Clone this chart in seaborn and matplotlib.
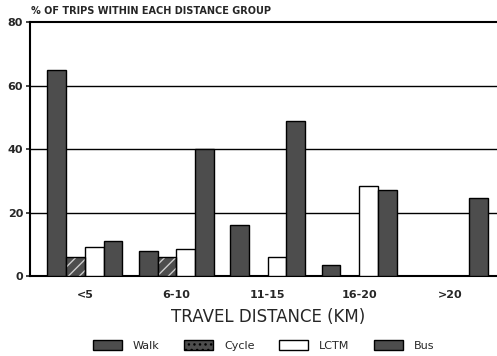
import matplotlib
matplotlib.use("Agg")
import matplotlib.pyplot as plt
import seaborn as sns
import pandas as pd
from matplotlib.patches import Patch

categories = ["<5", "6-10", "11-15", "16-20", ">20"]
modes = ["Walk", "Cycle", "LCTM", "Bus"]
walk = [65, 8, 16, 3.5, 0]
cycle = [6, 6, 0, 0, 0]
lctm = [9, 8.5, 6, 28.5, 0]
bus = [11, 40, 49, 27, 24.5]
yticks = [0, 20, 40, 60, 80]

rows = []
for mode, vals in zip(modes, [walk, cycle, lctm, bus]):
    for c, v in zip(categories, vals):
        rows.append({"dist": c, "mode": mode, "pct": v})
df = pd.DataFrame(rows)

sns.set_theme(style="white")
plt.rcParams["font.family"] = ["DejaVu Sans"]

fig = plt.figure(figsize=(4.97, 3.56), dpi=100)
ax = fig.add_axes([0.0604, 0.2247, 0.96, 0.713])

dark = "#4d4d4d"
palette = {"Walk": dark, "Cycle": dark, "LCTM": "white", "Bus": dark}
sns.barplot(data=df, x="dist", y="pct", hue="mode", order=categories,
            hue_order=modes, palette=palette, width=0.82, saturation=1,
            edgecolor="black", linewidth=1.0, ax=ax, legend=False, zorder=3)

# hatch the cycle bars
for bar in ax.containers[1]:
    bar.set_hatch("///")
    bar.set_edgecolor("#cccccc")
    bar.set_linewidth(0)
for bar in ax.containers[1]:
    x, w, h = bar.get_x(), bar.get_width(), bar.get_height()
    ax.add_patch(plt.Rectangle((x, 0), w, h, fill=False, edgecolor="black",
                               linewidth=1.0, zorder=4))

ax.set_xlim(-0.6, 4.62)
ax.set_ylim(0, 80)
ax.set_yticks(yticks)
ax.set_yticklabels([str(t) for t in yticks], fontsize=8, fontweight="bold")
ax.tick_params(axis="x", labelsize=8, length=0, pad=10)
ax.tick_params(axis="y", length=3, width=1.2, pad=2, direction="out", left=True)
for t in ax.get_xticklabels():
    t.set_fontweight("bold")
ax.set_xlabel("TRAVEL DISTANCE (KM)", fontsize=12, labelpad=6)
ax.set_ylabel("")
for y in [20, 40, 60]:
    ax.axhline(y, color="black", linewidth=1.0, zorder=1)
for s in ["left", "bottom", "top"]:
    ax.spines[s].set_color("black")
    ax.spines[s].set_linewidth(1.5)
ax.spines["right"].set_visible(False)

fig.text(0.062, 0.955, "% OF TRIPS WITHIN EACH DISTANCE GROUP", fontsize=7,
         fontweight="bold", ha="left", va="bottom")

handles = [Patch(facecolor=dark, edgecolor="black"),
           Patch(facecolor=dark, edgecolor="black", hatch="..."),
           Patch(facecolor="white", edgecolor="black"),
           Patch(facecolor=dark, edgecolor="black")]
fig.legend(handles, modes, loc="center", bbox_to_anchor=(0.53, 0.03), ncol=4,
           frameon=False, fontsize=8, handlelength=2.6, handleheight=1.0,
           columnspacing=2.2, handletextpad=1.0)

fig.savefig("out.png", dpi=100)
